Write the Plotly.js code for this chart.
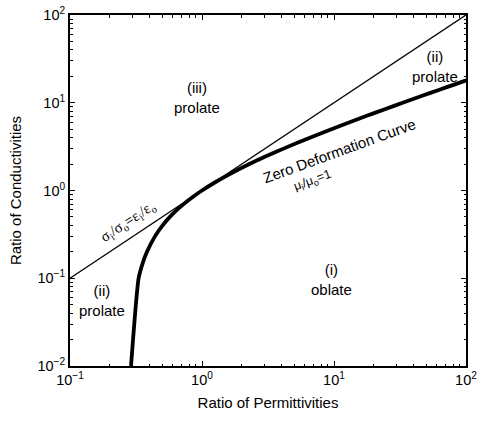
<!DOCTYPE html>
<html>
<head>
<meta charset="utf-8">
<script src="https://cdn.plot.ly/plotly-3.0.1.min.js"></script>
<style>html,body{margin:0;padding:0;background:#fff;}#chart{width:477px;height:421px;}</style>
</head>
<body>
<div id="chart"></div>
<script>
// Zero deformation curve (mu_i/mu_o = 1): permittivity ratio vs conductivity ratio
var curvePermittivity = [0.290, 0.331, 0.356, 0.383, 0.440, 0.503, 0.571, 0.646, 0.726, 0.856, 1.0, 1.268, 1.571, 2.286, 3.143, 4.143, 6.571, 9.571, 13.14, 17.29, 24.57, 33.14, 46.57, 62.29, 80.29, 100.57];
var curveConductivity = [0.01, 0.1, 0.15, 0.2, 0.3, 0.4, 0.5, 0.6, 0.7, 0.85, 1.0, 1.25, 1.5, 2.0, 2.5, 3.0, 4.0, 5.0, 6.0, 7.0, 8.5, 10, 12, 14, 16, 18];
// Line sigma_i/sigma_o = eps_i/eps_o
var equalPermittivity = [0.1, 100];
var equalConductivity = [0.1, 100];
// Ticks
var xTickValues = [0.1, 1, 10, 100];
var xTickLabels = ['10<sup>\u22121</sup>', '10<sup>0</sup>', '10<sup>1</sup>', '10<sup>2</sup>'];
var yTickValues = [0.01, 0.1, 1, 10, 100];
var yTickLabels = ['10<sup>\u22122</sup>', '10<sup>\u22121</sup>', '10<sup>0</sup>', '10<sup>1</sup>', '10<sup>2</sup>'];
// Region labels
var labelTexts = ['(iii)<br>prolate', '(ii)<br>prolate', '(ii)<br>prolate', '(i)<br>oblate'];
var labelX = [0.92, 58, 0.175, 9.5];
var labelY = [11.6, 25.6, 0.0565, 0.098];

var font = 'Liberation Sans, Arial, Helvetica, sans-serif';

function minorTicks(lo, hi) {
  var v = [];
  for (var e = lo; e < hi; e++) {
    for (var d = 2; d <= 9; d++) v.push(d * Math.pow(10, e));
  }
  return v;
}

var traces = [
  {x: equalPermittivity, y: equalConductivity, mode: 'lines', line: {color: '#000', width: 1.4}, hoverinfo: 'skip'},
  {x: curvePermittivity, y: curveConductivity, mode: 'lines', line: {color: '#000', width: 3.8, shape: 'spline', smoothing: 0.6}, hoverinfo: 'skip'}
];

function axisBase(lo, hi) {
  return {
    type: 'log',
    showline: true, linecolor: '#000', linewidth: 2, mirror: 'allticks',
    ticks: 'inside', ticklen: 5, tickwidth: 1, tickcolor: '#000',
    showgrid: false, zeroline: false,
    tickfont: {family: font, size: 14.5, color: '#000'},
    ticklabeloverflow: 'allow',
    minor: {tickmode: 'array', tickvals: minorTicks(lo, hi), ticks: 'inside', ticklen: 2.5, tickwidth: 1, tickcolor: '#000', showgrid: false},
    tickmode: 'array'
  };
}

var xaxis = axisBase(-1, 2);
xaxis.range = [-1, 2];
xaxis.tickvals = xTickValues;
xaxis.ticktext = xTickLabels;
xaxis.title = {text: 'Ratio of Permittivities', font: {family: font, size: 15, color: '#000'}, standoff: 10};

var yaxis = axisBase(-2, 2);
yaxis.range = [-2, 2];
yaxis.tickvals = yTickValues;
yaxis.ticktext = yTickLabels;
yaxis.title = {text: 'Ratio of Conductivities', font: {family: font, size: 15, color: '#000'}, standoff: 12};

var annotations = [];
for (var i = 0; i < labelTexts.length; i++) {
  annotations.push({x: Math.log10(labelX[i]), y: Math.log10(labelY[i]), xref: 'x', yref: 'y', text: labelTexts[i], showarrow: false, font: {family: font, size: 15, color: '#000'}});
}
annotations.push({x: Math.log10(11.1), y: Math.log10(2.82), xref: 'x', yref: 'y', text: 'Zero Deformation Curve', textangle: -20, showarrow: false, font: {family: font, size: 15, color: '#000'}});
annotations.push({x: Math.log10(6.9), y: Math.log10(1.3), xref: 'x', yref: 'y', text: '\u03bc<sub>i</sub>/\u03bc<sub>o</sub>=1', textangle: -20, showarrow: false, font: {family: font, size: 12.5, color: '#000'}});
annotations.push({x: Math.log10(0.275), y: Math.log10(0.44), xref: 'x', yref: 'y', text: '\u03c3<sub>i</sub>/\u03c3<sub>o</sub>=\u03b5<sub>i</sub>/\u03b5<sub>o</sub>', textangle: -33.6, showarrow: false, font: {family: 'Liberation Serif, Times New Roman, serif', size: 15, color: '#000'}});

var layout = {
  width: 477, height: 421,
  margin: {l: 70, r: 11, t: 15, b: 55},
  paper_bgcolor: '#fff', plot_bgcolor: '#fff',
  showlegend: false,
  xaxis: xaxis, yaxis: yaxis,
  annotations: annotations,
  font: {family: font, color: '#000'}
};

Plotly.newPlot('chart', traces, layout, {displayModeBar: false, staticPlot: true});
</script>
</body>
</html>
